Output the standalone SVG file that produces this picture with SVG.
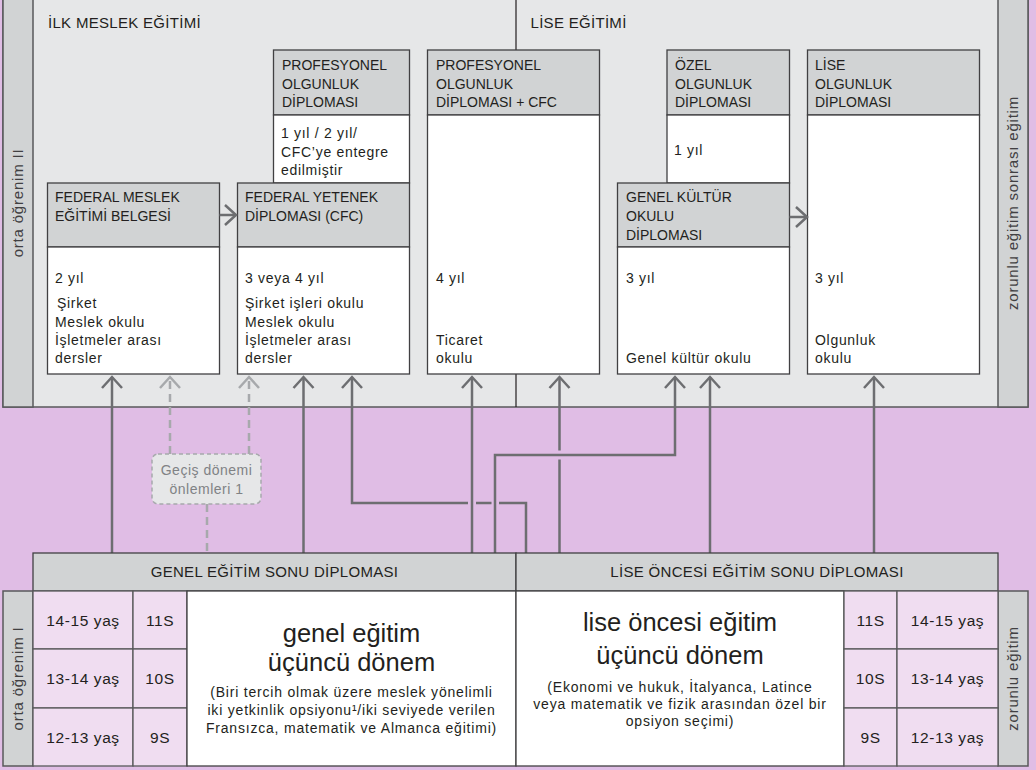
<svg xmlns="http://www.w3.org/2000/svg" width="1036" height="770" viewBox="0 0 1036 770">
<defs>
<style>
.bg{fill:#E0BDE5}
.panel{fill:#E6E7E8;stroke:#58595B;stroke-width:1.5}
.col{fill:#D1D3D4;stroke:#58595B;stroke-width:1.5}
.hdr{fill:#D1D3D4;stroke:#414042;stroke-width:1.3}
.body{fill:#FFFFFF;stroke:#414042;stroke-width:1.3}
.cell{fill:#F0DDF1;stroke:#58595B;stroke-width:1.3}
.div{stroke:#231F20;stroke-width:1.2;fill:none}
text{font-family:"Liberation Sans",Arial,sans-serif;fill:#231F20}
.cap{font-size:14px}
.low{font-size:14px;letter-spacing:0.7px}
.title{font-size:15px;letter-spacing:0.3px}
.vert{font-size:15px;letter-spacing:0.8px;fill:#414042;text-anchor:middle}
.big{font-size:25.5px;text-anchor:middle}
.small{font-size:14px;letter-spacing:0.8px;text-anchor:middle}
.age{font-size:15.5px;letter-spacing:0.6px;text-anchor:middle}
.bar{font-size:15px;letter-spacing:0.3px;text-anchor:middle}
.con{fill:none;stroke:#6D6E71;stroke-width:2.5}
.dash{fill:none;stroke:#A7A9AC;stroke-width:2.5;stroke-dasharray:8 5}
.note{fill:#E6E7E8;stroke:#A7A9AC;stroke-width:1.5;stroke-dasharray:4 3}
.notet{font-size:14px;letter-spacing:0.5px;fill:#808285;text-anchor:middle}
</style>
<marker id="ah" markerUnits="userSpaceOnUse" markerWidth="30" markerHeight="30" refX="0" refY="0" orient="auto" overflow="visible">
<path d="M-11,-10 L0,0 L-11,10" fill="none" stroke="#6D6E71" stroke-width="2.5"/>
</marker>
<marker id="ahd" markerUnits="userSpaceOnUse" markerWidth="30" markerHeight="30" refX="0" refY="0" orient="auto" overflow="visible">
<path d="M-11,-10 L0,0 L-11,10" fill="none" stroke="#A7A9AC" stroke-width="2.5"/>
</marker>
</defs>

<rect class="bg" x="0" y="0" width="1036" height="770"/>

<g id="upper-panel">
<rect class="panel" x="3" y="-5" width="1025" height="412"/>
<rect class="col" x="3" y="-5" width="30" height="412"/>
<rect class="col" x="998" y="-5" width="30" height="412"/>
<path class="div" d="M516,0 V50 M516,374 V407"/>
<text class="title" x="48" y="28">İLK MESLEK EĞİTİMİ</text>
<text class="title" x="530.5" y="28">LİSE EĞİTİMİ</text>
<text class="vert" transform="translate(23,203) rotate(-90)">orta öğrenim II</text>
<text class="vert" transform="translate(1018,203) rotate(-90)">zorunlu eğitim sonrası eğitim</text>
</g>

<g id="prof-olgunluk">
<rect class="hdr" x="273.5" y="50" width="136" height="65"/>
<rect class="body" x="273.5" y="115" width="136" height="68"/>
<text class="cap" x="282" y="70">PROFESYONEL</text>
<text class="cap" x="282" y="88.5">OLGUNLUK</text>
<text class="cap" x="282" y="107">DİPLOMASI</text>
<text class="low" x="281" y="138">1 yıl / 2 yıl/</text>
<text class="low" x="281" y="157">CFC’ye entegre</text>
<text class="low" x="281" y="175">edilmiştir</text>
</g>

<g id="prof-olgunluk-cfc">
<rect class="hdr" x="427.5" y="50" width="172" height="65"/>
<rect class="body" x="427.5" y="115" width="172" height="259"/>
<text class="cap" x="436" y="70">PROFESYONEL</text>
<text class="cap" x="436" y="88.5">OLGUNLUK</text>
<text class="cap" x="436" y="107">DİPLOMASI + CFC</text>
<text class="low" x="436" y="283">4 yıl</text>
<text class="low" x="436" y="345">Ticaret</text>
<text class="low" x="436" y="363">okulu</text>
</g>

<g id="ozel-olgunluk">
<rect class="hdr" x="667" y="50" width="122.5" height="65"/>
<rect class="body" x="667" y="115" width="122.5" height="68"/>
<text class="cap" x="675" y="70">ÖZEL</text>
<text class="cap" x="675" y="88.5">OLGUNLUK</text>
<text class="cap" x="675" y="107">DİPLOMASI</text>
<text class="low" x="674" y="155">1 yıl</text>
</g>

<g id="lise-olgunluk">
<rect class="hdr" x="807.5" y="50" width="172" height="65"/>
<rect class="body" x="807.5" y="115" width="172" height="259"/>
<text class="cap" x="815" y="70">LİSE</text>
<text class="cap" x="815" y="88.5">OLGUNLUK</text>
<text class="cap" x="815" y="107">DİPLOMASI</text>
<text class="low" x="815" y="283">3 yıl</text>
<text class="low" x="815" y="345">Olgunluk</text>
<text class="low" x="815" y="363">okulu</text>
</g>

<g id="federal-meslek">
<rect class="hdr" x="47.5" y="183" width="172" height="64"/>
<rect class="body" x="47.5" y="247" width="172" height="127"/>
<text class="cap" x="55" y="202">FEDERAL MESLEK</text>
<text class="cap" x="55" y="221">EĞİTİMİ BELGESİ</text>
<text class="low" x="55" y="283">2 yıl</text>
<text class="low" x="57" y="308">Şirket</text>
<text class="low" x="55" y="326.5">Meslek okulu</text>
<text class="low" x="55" y="345">İşletmeler arası</text>
<text class="low" x="55" y="363">dersler</text>
</g>

<g id="federal-yetenek">
<rect class="hdr" x="237.5" y="183" width="172" height="64"/>
<rect class="body" x="237.5" y="247" width="172" height="127"/>
<text class="cap" x="245" y="202">FEDERAL YETENEK</text>
<text class="cap" x="245" y="221">DİPLOMASI (CFC)</text>
<text class="low" x="245" y="283">3 veya 4 yıl</text>
<text class="low" x="245" y="308">Şirket işleri okulu</text>
<text class="low" x="245" y="326.5">Meslek okulu</text>
<text class="low" x="245" y="345">İşletmeler arası</text>
<text class="low" x="245" y="363">dersler</text>
</g>

<g id="genel-kultur">
<rect class="hdr" x="617.5" y="183" width="172" height="64"/>
<rect class="body" x="617.5" y="247" width="172" height="127"/>
<text class="cap" x="626" y="202">GENEL KÜLTÜR</text>
<text class="cap" x="626" y="221">OKULU</text>
<text class="cap" x="626" y="240">DİPLOMASI</text>
<text class="low" x="626" y="283">3 yıl</text>
<text class="low" x="626" y="363">Genel kültür okulu</text>
</g>

<g id="gecis">
<rect class="note" x="152" y="454" width="109" height="50" rx="6"/>
<text class="notet" x="206.5" y="475">Geçiş dönemi</text>
<text class="notet" x="206.5" y="494">önlemleri 1</text>
</g>

<g id="connectors">
<path class="con" d="M219.5,215 H236" marker-end="url(#ah)"/>
<path class="con" d="M789.5,217 H807" marker-end="url(#ah)"/>
<path class="con" d="M112,553 V377" marker-end="url(#ah)"/>
<path class="con" d="M303.5,553 V377" marker-end="url(#ah)"/>
<path class="con" d="M472,553 V377" marker-end="url(#ah)"/>
<path class="con" d="M526,553 V503 H499 M491.5,503 H476 M468,503 H352 V377" marker-end="url(#ah)"/>
<path class="con" d="M495,553 V455 H675 V377" marker-end="url(#ah)"/>
<path class="con" d="M559.5,553 V459.5 M559.5,450.5 V377" marker-end="url(#ah)"/>
<path class="con" d="M710,553 V377" marker-end="url(#ah)"/>
<path class="con" d="M874,553 V377" marker-end="url(#ah)"/>
<path class="dash" d="M170,454 V377" marker-end="url(#ahd)"/>
<path class="dash" d="M249,454 V377" marker-end="url(#ahd)"/>
<path class="dash" d="M207,504 V553"/>
</g>

<g id="genel-egitim-sonu">
<rect class="hdr" x="33" y="553" width="483" height="38"/>
<text class="bar" x="274.5" y="577">GENEL EĞİTİM SONU DİPLOMASI</text>
</g>
<g id="lise-oncesi-sonu">
<rect class="hdr" x="516" y="553" width="482" height="38"/>
<text class="bar" x="757" y="577">LİSE ÖNCESİ EĞİTİM SONU DİPLOMASI</text>
</g>

<g id="orta-ogrenim-1">
<rect class="col" x="3" y="591" width="30" height="175"/>
<text class="vert" transform="translate(23,678.5) rotate(-90)">orta öğrenim I</text>
</g>
<g id="zorunlu-egitim">
<rect class="col" x="998" y="591" width="30" height="175"/>
<text class="vert" transform="translate(1018,678.5) rotate(-90)">zorunlu eğitim</text>
</g>

<g id="left-grades">
<rect class="cell" x="33" y="591" width="100" height="58"/>
<rect class="cell" x="33" y="649" width="100" height="59"/>
<rect class="cell" x="33" y="708" width="100" height="58"/>
<rect class="cell" x="133" y="591" width="54" height="58"/>
<rect class="cell" x="133" y="649" width="54" height="59"/>
<rect class="cell" x="133" y="708" width="54" height="58"/>
<text class="age" x="83" y="625.5">14-15 yaş</text>
<text class="age" x="83" y="684">13-14 yaş</text>
<text class="age" x="83" y="742.5">12-13 yaş</text>
<text class="age" x="160" y="625.5">11S</text>
<text class="age" x="160" y="684">10S</text>
<text class="age" x="160" y="742.5">9S</text>
</g>

<g id="genel-egitim">
<rect class="body" x="187" y="591" width="329" height="175"/>
<text class="big" x="351.5" y="642">genel eğitim</text>
<text class="big" x="351.5" y="671">üçüncü dönem</text>
<text class="small" x="351.5" y="697">(Biri tercih olmak üzere meslek yönelimli</text>
<text class="small" x="351.5" y="715">iki yetkinlik opsiyonu¹/iki seviyede verilen</text>
<text class="small" x="351.5" y="733">Fransızca, matematik ve Almanca eğitimi)</text>
</g>

<g id="lise-oncesi-egitim">
<rect class="body" x="516" y="591" width="328" height="175"/>
<text class="big" x="680" y="631">lise öncesi eğitim</text>
<text class="big" x="680" y="664">üçüncü dönem</text>
<text class="small" x="680" y="692">(Ekonomi ve hukuk, İtalyanca, Latince</text>
<text class="small" x="680" y="709">veya matematik ve fizik arasından özel bir</text>
<text class="small" x="680" y="726">opsiyon seçimi)</text>
</g>

<g id="right-grades">
<rect class="cell" x="844" y="591" width="53" height="58"/>
<rect class="cell" x="844" y="649" width="53" height="59"/>
<rect class="cell" x="844" y="708" width="53" height="58"/>
<rect class="cell" x="897" y="591" width="101" height="58"/>
<rect class="cell" x="897" y="649" width="101" height="59"/>
<rect class="cell" x="897" y="708" width="101" height="58"/>
<text class="age" x="870.5" y="625.5">11S</text>
<text class="age" x="870.5" y="684">10S</text>
<text class="age" x="870.5" y="742.5">9S</text>
<text class="age" x="947.5" y="625.5">14-15 yaş</text>
<text class="age" x="947.5" y="684">13-14 yaş</text>
<text class="age" x="947.5" y="742.5">12-13 yaş</text>
</g>
</svg>
